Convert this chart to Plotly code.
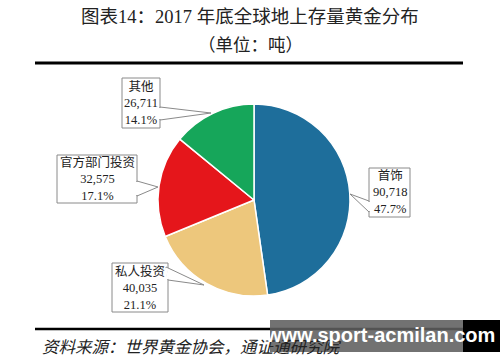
import plotly.graph_objects as go

W, H = 500, 362

categories = ["首饰", "私人投资", "官方部门投资", "其他"]
tonnes = [90718, 40035, 32575, 26711]
shares = ["47.7%", "21.1%", "17.1%", "14.1%"]
colors = ["#1E6E9B", "#EDC77C", "#E5161B", "#16A65A"]

title = "图表14：2017 年底全球地上存量黄金分布"
subtitle = "（单位：吨）"
source = "资料来源：世界黄金协会，通证通研究院"
watermark = "www.sport-acmilan.com"

FONT = "Liberation Serif, Noto Sans CJK SC"


def px(x):
    return x / W


def py(y):
    return 1 - y / H


# pie centre (254,200), radius 96
cx, cy, r = 254, 200, 96
fig = go.Figure(go.Pie(
    labels=categories, values=tonnes, sort=False, direction="clockwise",
    rotation=0, marker=dict(colors=colors, line=dict(color="white", width=1.5)),
    textinfo="none", hoverinfo="label+value+percent", showlegend=False,
    domain=dict(x=[px(cx - r), px(cx + r)], y=[py(cy + r), py(cy - r)]),
))

shapes = []
annotations = []


def text_at(x, y, text, size, color="#222", family=FONT, xanchor="center"):
    annotations.append(dict(x=px(x), y=py(y), xref="paper", yref="paper",
                            xanchor=xanchor, yanchor="middle", text=text,
                            showarrow=False,
                            font=dict(size=size, color=color, family=family)))


# title / subtitle
text_at(250, 17, title, 18.5)
text_at(250, 45, subtitle, 17.5)
shapes.append(dict(type="line", xref="paper", yref="paper", x0=px(35), x1=px(463),
                   y0=py(63), y1=py(63), line=dict(color="black", width=3)))

# callout boxes: (box x0,y0,x1,y1), wedge base points, tip
callouts = [
    (0, (369, 168, 410, 217), [(369, 201), (369, 212)], (350, 194)),
    (1, (112, 263, 168, 312), [(166, 267), (168, 280)], (204, 285)),
    (2, (57, 155, 137, 203), [(137, 181), (137, 196)], (158, 187)),
    (3, (122, 78, 160, 128), [(160, 107), (160, 120)], (211, 113)),
]
for i, (x0, y0, x1, y1), base, tip in callouts:
    shapes.append(dict(type="rect", xref="paper", yref="paper",
                       x0=px(x0), x1=px(x1), y0=py(y1), y1=py(y0),
                       line=dict(color="#8a8a8a", width=1), fillcolor="white"))
    path = "M {} {} L {} {} L {} {} Z".format(px(base[0][0]), py(base[0][1]),
                                             px(tip[0]), py(tip[1]),
                                             px(base[1][0]), py(base[1][1]))
    shapes.append(dict(type="path", xref="paper", yref="paper", path=path,
                       line=dict(color="#8a8a8a", width=1), fillcolor="white"))
    shapes.append(dict(type="line", xref="paper", yref="paper",
                       x0=px(base[0][0]), x1=px(base[1][0]),
                       y0=py(base[0][1] + 1), y1=py(base[1][1] - 1),
                       line=dict(color="white", width=2)))
    val = f"{tonnes[i]:,}"
    text_at((x0 + x1) / 2, (y0 + y1) / 2,
            f"{categories[i]}<br>{val}<br>{shares[i]}", 12.5)

# bottom rule and source
shapes.append(dict(type="line", xref="paper", yref="paper", x0=px(35), x1=px(463),
                   y0=py(329), y1=py(329), line=dict(color="black", width=2.5)))
text_at(40, 347, f"<i>{source}</i>", 16.5, xanchor="left")

# watermark overlay
shapes.append(dict(type="rect", xref="paper", yref="paper", x0=px(270), x1=px(463),
                   y0=py(352), y1=py(320), line=dict(width=0),
                   fillcolor="rgba(95,95,95,0.88)"))
shapes.append(dict(type="rect", xref="paper", yref="paper", x0=px(463), x1=1,
                   y0=py(352), y1=py(320), line=dict(width=0), fillcolor="black"))
text_at(380, 335, f"<b>{watermark}</b>", 20, color="white",
        family="Arial, Liberation Sans")

fig.update_layout(width=W, height=H, margin=dict(l=0, r=0, t=0, b=0),
                  paper_bgcolor="white", plot_bgcolor="white",
                  shapes=shapes, annotations=annotations)

fig.write_html("out.html", config={"displayModeBar": False},
               post_script="document.body.style.margin='0';")
